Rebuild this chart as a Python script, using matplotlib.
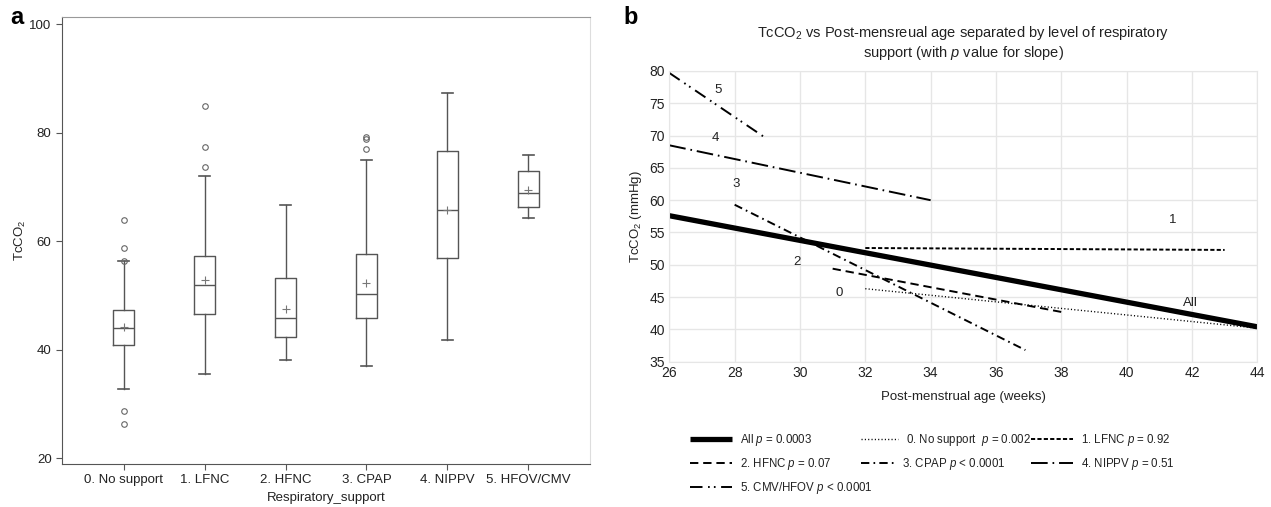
import matplotlib
matplotlib.use("Agg")
import matplotlib.pyplot as plt

plt.rcParams['font.family'] = ['Liberation Sans', 'DejaVu Sans']
plt.rcParams['mathtext.fontset'] = 'custom'
plt.rcParams['mathtext.rm'] = 'Liberation Sans'
plt.rcParams['mathtext.it'] = 'Liberation Sans:italic'
plt.rcParams['lines.scale_dashes'] = False

# panel a: box plot summary per respiratory support level
groups = ["0. No support", "1. LFNC", "2. HFNC", "3. CPAP", "4. NIPPV", "5. HFOV/CMV"]
whislo = [32.8, 35.5, 38.1, 36.9, 41.8, 64.2]
q1 = [40.9, 46.6, 42.3, 45.8, 56.8, 66.2]
med = [44.0, 51.9, 45.8, 50.2, 65.8, 68.9]
q3 = [47.2, 57.3, 53.1, 57.6, 76.6, 72.9]
whishi = [56.3, 72.0, 66.6, 74.9, 87.2, 75.9]
means = [44.2, 52.8, 47.5, 52.3, 65.8, 69.5]
fliers = [[63.9, 58.8, 56.4, 28.7, 26.2], [84.9, 77.3, 73.7], [], [79.2, 78.9, 76.9], [], []]

# panel b: regression lines of TcCO2 vs post-menstrual age
series = ["All", "0", "1", "2", "3", "4", "5"]
legend_labels = [r"All $p$ = 0.0003", r"0. No support  $p$ = 0.002", r"1. LFNC $p$ = 0.92",
                 r"2. HFNC $p$ = 0.07", r"3. CPAP $p$ < 0.0001", r"4. NIPPV $p$ = 0.51",
                 r"5. CMV/HFOV $p$ < 0.0001"]
x_start = [26, 32, 32, 31, 28, 26, 26]
x_end = [44, 44, 43, 38, 36.9, 34.0, 28.9]
y_start = [57.6, 46.3, 52.6, 49.4, 59.3, 68.5, 79.7]
y_end = [40.4, 40.2, 52.3, 42.7, 36.8, 60.0, 69.8]
label_x = [41.95, 31.2, 41.4, 29.9, 28.05, 27.4, 27.5]
label_y = [44.1, 45.7, 57.0, 50.5, 62.5, 69.7, 77.1]

styles = [
    dict(lw=3.8, ls='-'),
    dict(lw=1.0, ls=(0, (0.8, 1.6))),
    dict(lw=1.4, ls=(0, (3, 1.6))),
    dict(lw=1.4, ls=(0, (6, 3.5))),
    dict(lw=1.4, ls=(0, (6, 3, 1.2, 3))),
    dict(lw=1.4, ls=(0, (12, 3.5, 1.2, 3.5))),
    dict(lw=1.4, ls=(0, (9, 4, 1.2, 3, 1.2, 4))),
]
# legend entry positions in figure pixels (handle start, row centre) and handle lengths
legend_pos = [(690, 440), (861, 440), (1031, 440), (690, 464), (861, 464), (1031, 464), (690, 488)]
handle_len = [3.6, 3.2, 3.6, 3.6, 2.9, 3.6, 3.6]

W, H = 1271, 507
fig = plt.figure(figsize=(W / 100, H / 100), dpi=100)

# ---------- panel a ----------
axa = fig.add_axes([62 / W, 1 - 464 / H, 528 / W, 447 / H])
stats = []
for i in range(len(groups)):
    stats.append(dict(label=groups[i], whislo=whislo[i], q1=q1[i], med=med[i], q3=q3[i],
                      whishi=whishi[i], mean=means[i], fliers=fliers[i]))
box_col = '#555555'
axa.bxp(stats, positions=range(len(groups)), widths=0.26, showmeans=True,
        boxprops=dict(color=box_col, lw=1.0),
        medianprops=dict(color=box_col, lw=1.0),
        whiskerprops=dict(color=box_col, lw=1.0),
        capprops=dict(color=box_col, lw=1.2),
        capwidths=0.13,
        meanprops=dict(marker='+', markeredgecolor='#777777', markersize=6, markeredgewidth=0.8),
        flierprops=dict(marker='o', markerfacecolor='none', markeredgecolor='#666666',
                        markersize=4, markeredgewidth=0.8))
axa.set_xlim(-0.76, 5.76)
axa.set_ylim(18.9, 101.3)
axa.set_yticks([20, 40, 60, 80, 100])
axa.set_xticks(range(len(groups)))
axa.set_xticklabels(groups)
axa.tick_params(axis='both', labelsize=9.5, colors='#555555', labelcolor='#222222', length=4)
axa.spines['left'].set_color('#555555')
axa.spines['bottom'].set_color('#555555')
axa.spines['top'].set_color('#999999')
axa.spines['right'].set_color('#dddddd')
axa.set_xlabel("Respiratory_support", fontsize=9.5, color='#222222', labelpad=4)
axa.set_ylabel("TcCO$_2$", fontsize=9.5, color='#222222', labelpad=1)
fig.text(10 / W, 1 - 17 / H, "a", fontsize=17, fontweight='bold', va='center')

# ---------- panel b ----------
axb = fig.add_axes([669.3 / W, 1 - 361.7 / H, 588 / W, 290.7 / H])
grid_col = '#e6e6e6'
lines = []
for i in range(len(series)):
    ln, = axb.plot([x_start[i], x_end[i]], [y_start[i], y_end[i]], color='black',
                   solid_capstyle='butt', dash_capstyle='butt', **styles[i])
    lines.append(ln)
    axb.text(label_x[i], label_y[i], series[i], fontsize=9.5, ha='center', va='center',
             color='#222222')
axb.set_xlim(26, 44)
axb.set_ylim(35, 80)
axb.set_xticks(range(26, 45, 2))
axb.set_yticks(range(35, 81, 5))
axb.grid(True, color=grid_col, lw=1.0)
axb.set_axisbelow(True)
for s in axb.spines.values():
    s.set_color(grid_col)
axb.tick_params(axis='both', length=0, labelsize=10, labelcolor='#222222', pad=3)
axb.set_xlabel("Post-menstrual age (weeks)", fontsize=9.5, color='#222222', labelpad=8)
axb.set_ylabel("TcCO$_2$ (mmHg)", fontsize=9.5, color='#222222', labelpad=4)
axb.set_title("TcCO$_2$ vs Post-mensreual age separated by level of respiratory\n"
              "support (with $p$ value for slope)", fontsize=10.5, color='#222222',
              pad=10, linespacing=1.15)
fig.text(623 / W, 1 - 17 / H, "b", fontsize=17, fontweight='bold', va='center')

for i in range(len(series)):
    px, py = legend_pos[i]
    fig.legend([lines[i]], [legend_labels[i]], loc='center left',
               bbox_to_anchor=(px / W, 1 - py / H), bbox_transform=fig.transFigure,
               frameon=False, borderpad=0, borderaxespad=0, handlelength=handle_len[i],
               handletextpad=0.7, fontsize=8.3, labelcolor='#222222')

fig.savefig("out.png", dpi=100)
